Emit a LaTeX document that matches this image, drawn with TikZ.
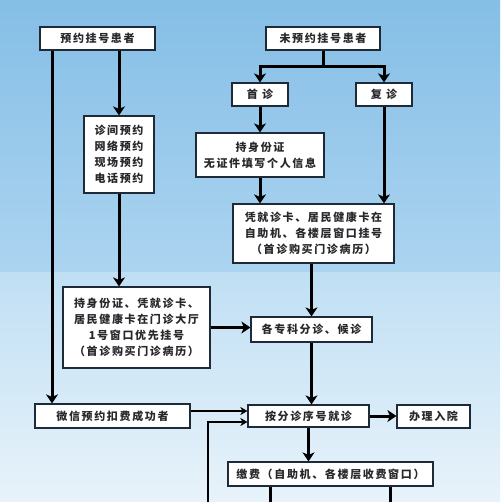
\documentclass[tikz,border=0pt]{standalone}
\usepackage{fontspec}
\newfontfamily\cjk{Noto Sans CJK SC}[LetterSpace=15]
\usetikzlibrary{arrows.meta}
\definecolor{boxline}{RGB}{30,42,56}
\definecolor{textgray}{RGB}{40,40,44}
\definecolor{skytop}{RGB}{133,190,230}
\definecolor{skymid}{RGB}{172,212,240}
\definecolor{palemid}{RGB}{192,223,244}
\definecolor{palelow}{RGB}{232,243,250}
\begin{document}
\begin{tikzpicture}[x=1pt,y=-1pt,line width=1.2pt,
  every node/.style={font=\cjk\bfseries\fontsize{11}{16}\selectfont,text=textgray,align=center,inner sep=0pt},
  box/.style={draw=boxline,fill=white,line width=1.2pt,minimum height=23pt},
  flow/.style={line width=3pt,-{Stealth[length=9pt,width=12pt,inset=2.5pt]}},
  thin flow/.style={line width=1.6pt,-{Stealth[length=7pt,width=8pt,inset=2pt]}},
  trunk/.style={line width=3pt}]
\useasboundingbox (0,0) rectangle (500,502);
\shade[top color=skytop,bottom color=skymid] (0,0) rectangle (500,272);
\shade[top color=palemid,bottom color=palelow] (0,272) rectangle (500,502);
\coordinate (split) at (323,67);
\coordinate (leftrail) at (52,0);
\coordinate (loop) at (208,502);
\coordinate (exitA) at (270,502);
\coordinate (exitB) at (390,502);
\node[box,minimum width=115pt] (booked) at (97.5,38.5) {预约挂号患者};
\node[box,minimum width=114pt] (walkin) at (323,38.5) {未预约挂号患者};
\node[box,minimum width=56pt] (first) at (260,94.5) {首 诊};
\node[box,minimum width=56pt] (repeat) at (384,94.5) {复 诊};
\node[box,minimum width=128pt,minimum height=44pt] (idcard) at (260,155) {持身份证\\无证件填写个人信息};
\node[box,minimum width=161pt,minimum height=59pt] (selfreg) at (313.5,233.5) {凭就诊卡、居民健康卡在\\自助机、各楼层窗口挂号\\（首诊购买门诊病历）};
\node[box,minimum width=70pt,minimum height=77pt] (channels) at (119,154.5) {诊间预约\\网络预约\\现场预约\\电话预约};
\node[box,minimum width=147pt,minimum height=81pt] (priority) at (136.5,327.5) {持身份证、凭就诊卡、\\居民健康卡在门诊大厅\\1号窗口优先挂号\\（首诊购买门诊病历）};
\node[box,minimum width=121pt,minimum height=25pt] (triage) at (311.5,329.5) {各专科分诊、候诊};
\node[box,minimum width=155pt,minimum height=24pt] (wechat) at (112.5,416) {微信预约扣费成功者};
\node[box,minimum width=121pt,minimum height=22pt] (visit) at (308.5,416) {按分诊序号就诊};
\node[box,minimum width=73pt] (admit) at (433.5,416.5) {办理入院};
\node[box,minimum width=205pt,minimum height=24pt] (pay) at (330.5,474) {缴费（自助机、各楼层收费窗口）};
\draw[flow] (booked.south -| channels.north) -- (channels.north);
\draw[flow] (booked.south -| leftrail) -- (wechat.north -| leftrail);
\draw[flow] (channels.south) -- (channels.south |- priority.north);
\draw[trunk] (walkin.south) -- (split);
\draw[flow] (split) -| (first.north);
\draw[flow] (split) -| (repeat.north);
\draw[flow] (first) -- (idcard);
\draw[flow] (idcard.south) -- (idcard.south |- selfreg.north);
\draw[flow] (repeat.south) -- (repeat.south |- selfreg.north);
\draw[flow] (selfreg.south -| triage.north) -- (triage.north);
\draw[flow] (priority.east) -- (priority.east -| triage.west);
\draw[flow] (triage.south) -- (triage.south |- visit.north);
\draw[thin flow] ([yshift=5pt]wechat.east) -- ([yshift=5pt]wechat.east -| visit.west);
\draw[thin flow] (loop) |- ([yshift=-6pt]visit.west);
\draw[flow] (visit.east) -- (visit.east -| admit.west);
\draw[flow] (visit.south) -- (visit.south |- pay.north);
\draw[trunk] (pay.south -| exitA) -- (exitA);
\draw[trunk] (pay.south -| exitB) -- (exitB);
\end{tikzpicture}
\end{document}
